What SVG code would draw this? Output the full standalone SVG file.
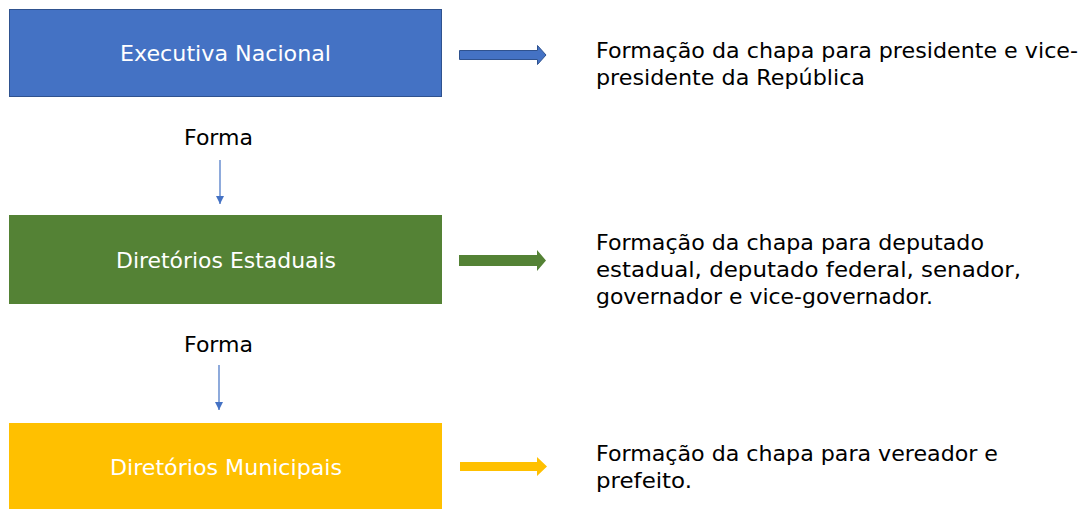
<svg xmlns="http://www.w3.org/2000/svg" width="1085" height="509" viewBox="0 0 1085 509">
  <defs>
    <style>
      .box-text { font-family: "DejaVu Sans", "Verdana", sans-serif; font-size: 21px; fill: #ffffff; text-anchor: middle; }
      .desc { font-family: "DejaVu Sans", "Verdana", sans-serif; font-size: 21px; fill: #000000; }
      .forma { font-family: "DejaVu Sans", "Verdana", sans-serif; font-size: 21px; fill: #000000; text-anchor: middle; }
      .thin { stroke: #4472C4; stroke-width: 1.2; fill: none; }
    </style>
    <marker id="tri" viewBox="0 0 10 10" refX="10" refY="5" markerWidth="8" markerHeight="8" markerUnits="userSpaceOnUse" orient="auto">
      <path d="M0,0 L10,5 L0,10 Z" fill="#4472C4"/>
    </marker>
  </defs>
  <rect width="1085" height="509" fill="#ffffff"/>

  <g id="executiva-nacional">
    <rect x="9.5" y="9.5" width="432" height="87" fill="#4472C4" stroke="#2F528F" stroke-width="1"/>
    <text class="box-text" x="225.5" y="61" textLength="211" lengthAdjust="spacingAndGlyphs">Executiva Nacional</text>
  </g>
  <g id="diretorios-estaduais">
    <rect x="9" y="215" width="433" height="89" fill="#548235"/>
    <text class="box-text" x="226" y="268" textLength="220" lengthAdjust="spacingAndGlyphs">Diretórios Estaduais</text>
  </g>
  <g id="diretorios-municipais">
    <rect x="9" y="423" width="433" height="86" fill="#FFC000"/>
    <text class="box-text" x="226" y="475" textLength="232" lengthAdjust="spacingAndGlyphs">Diretórios Municipais</text>
  </g>

  <g id="desc-nacional">
    <text class="desc" x="596" y="58" textLength="482" lengthAdjust="spacingAndGlyphs">Formação da chapa para presidente e vice-</text>
    <text class="desc" x="596" y="85" textLength="269" lengthAdjust="spacingAndGlyphs">presidente da República</text>
  </g>
  <g id="desc-estaduais">
    <text class="desc" x="596" y="250" textLength="388" lengthAdjust="spacingAndGlyphs">Formação da chapa para deputado</text>
    <text class="desc" x="596" y="277" textLength="425" lengthAdjust="spacingAndGlyphs">estadual, deputado federal, senador,</text>
    <text class="desc" x="596" y="304" textLength="337" lengthAdjust="spacingAndGlyphs">governador e vice-governador.</text>
  </g>
  <g id="desc-municipais">
    <text class="desc" x="596" y="461" textLength="402" lengthAdjust="spacingAndGlyphs">Formação da chapa para vereador e</text>
    <text class="desc" x="596" y="488" textLength="96" lengthAdjust="spacingAndGlyphs">prefeito.</text>
  </g>

  <g id="labels">
    <text class="forma" x="218.5" y="145" textLength="69" lengthAdjust="spacingAndGlyphs">Forma</text>
    <text class="forma" x="218.5" y="352" textLength="69" lengthAdjust="spacingAndGlyphs">Forma</text>
  </g>

  <g id="connectors">
    <line class="thin" x1="220" y1="160" x2="220" y2="204" marker-end="url(#tri)"/>
    <line class="thin" x1="219" y1="365" x2="219" y2="410" marker-end="url(#tri)"/>
    <path d="M459.5,50.5 L537.5,50.5 L537.5,45.5 L546,55 L537.5,64.5 L537.5,59.5 L459.5,59.5 Z" fill="#4472C4" stroke="#2F528F" stroke-width="1"/>
    <path d="M459,255 L537,255 L537,250 L546,260.5 L537,271 L537,266 L459,266 Z" fill="#548235"/>
    <path d="M460,462 L537,462 L537,457 L547,466.5 L537,476 L537,471 L460,471 Z" fill="#FFC000"/>
  </g>
</svg>
